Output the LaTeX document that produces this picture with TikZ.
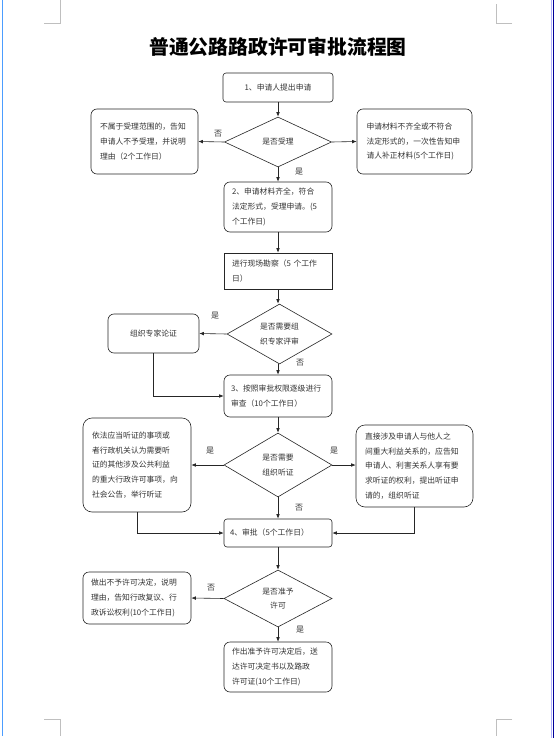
\documentclass[tikz,border=0pt]{standalone}
\usepackage{fontspec}
\setmainfont{Noto Sans CJK SC}
\usetikzlibrary{shapes.geometric,arrows.meta}
\tikzset{
  box/.style={draw=black!85,line width=0.6pt,rounded corners=6pt,inner sep=0pt,
    font=\fontsize{7.8}{14.8}\selectfont,text=black!80,align=left},
  sqbox/.style={box,rounded corners=0pt},
  dia/.style={draw=black!85,line width=0.6pt,diamond,inner sep=0pt,aspect=1.6,
    font=\fontsize{7.8}{14.8}\selectfont,text=black!80,align=center},
  lab/.style={font=\fontsize{8}{9}\selectfont,text=black!80},
  arr/.style={draw=black!85,line width=0.6pt,-{Latex[length=4.5pt,width=3.6pt]}},
  cropmark/.style={draw=black!25,line width=0.8pt},
}
\begin{document}
\begin{tikzpicture}[x=1pt,y=-1pt]
\useasboundingbox (0,0) rectangle (558,738);
\fill[white] (0,0) rectangle (558,738);
% window edges
\draw[line width=1.4pt,blue!55!cyan!70!white] (2.5,0) -- (2.5,736);
\draw[line width=1.6pt,blue!60!black] (553.5,0) -- (553.5,738);
\draw[line width=0.8pt,blue!30] (551.8,0) -- (551.8,738);
% crop marks
\draw[cropmark] (44,23) -- (60,23) -- (60,0);
\draw[cropmark] (512,23) -- (496,23) -- (496,4);
\draw[cropmark] (44,719) -- (60,719) -- (60,736);
\draw[cropmark] (512,719) -- (496,719) -- (496,736);
% title
\node (title) at (278,47) {\fontsize{19.8}{21}\selectfont\bfseries 普通公路路政许可审批流程图};
% nodes
\node[box,rounded corners=3pt,minimum width=110pt,minimum height=29pt,align=center] (b1) at (278,87.5) {1、申请人提出申请};
\node[dia,minimum width=107pt,minimum height=50pt] (d1) at (278,142) {是否受理};
\node[box,minimum width=107pt,minimum height=65pt,text width=89pt] (l1) at (144.5,141.5) {不属于受理范围的，告知\\申请人不予受理，并说明\\理由（2个工作日）};
\node[box,minimum width=115pt,minimum height=65pt,text width=96pt] (r1) at (414.5,141.5) {申请材料不齐全或不符合\\法定形式的，一次性告知申\\请人补正材料(5个工作日)};
\node[box,minimum width=108pt,minimum height=50pt,text width=92pt] (b2) at (278,207) {2、申请材料齐全，符合\\法定形式，受理申请。(5\\个工作日)};
\node[sqbox,minimum width=108pt,minimum height=36pt,text width=92pt] (b3) at (278,271) {进行现场勘察（5 个工作\\日）};
\node[dia,minimum width=105pt,minimum height=60pt] (d2) at (279.5,334) {是否需要组\\织专家评审};
\node[box,minimum width=91pt,minimum height=39pt,align=center] (ex) at (153.5,333.5) {组织专家论证};
\node[box,minimum width=108pt,minimum height=42pt,text width=94pt] (b4) at (278,396) {3、按照审批权限逐级进行\\审查（10个工作日）};
\node[dia,minimum width=108pt,minimum height=64pt] (d3) at (278,465) {是否需要\\组织听证};
\node[box,rounded corners=9pt,minimum width=108pt,minimum height=94pt,text width=90pt] (lh) at (137,465) {依法应当听证的事项或\\者行政机关认为需要听\\证的其他涉及公共利益\\的重大行政许可事项，向\\社会公告，举行听证};
\node[box,rounded corners=9pt,minimum width=117pt,minimum height=82pt,text width=99pt] (rh) at (414.5,466) {直接涉及申请人与他人之\\间重大利益关系的，应告知\\申请人、利害关系人享有要\\求听证的权利，提出听证申\\请的，组织听证};
\node[box,rounded corners=3pt,minimum width=108pt,minimum height=28pt,text width=96pt] (b5) at (278,533) {4、审批（5个工作日）};
\node[dia,minimum width=108pt,minimum height=57pt] (d4) at (278,598.5) {是否准予\\许可};
\node[box,minimum width=108pt,minimum height=52pt,text width=92pt] (rf) at (137,598) {做出不予许可决定，说明\\理由，告知行政复议、行\\政诉讼权利(10个工作日)};
\node[box,minimum width=108pt,minimum height=50pt,text width=92pt] (fin) at (278,667) {作出准予许可决定后，送\\达许可决定书以及路政\\许可证(10个工作日)};
% connectors
\draw[arr] (b1) -- (d1);
\draw[arr] (d1.west) -- (l1.east);
\draw[arr] (d1.east) -- (r1.west);
\draw[arr] (d1) -- (b2);
\draw[arr] (b2) -- (b3);
\draw[arr] (b3) -- (d2.north -| b3.south);
\draw[arr] (d2.west) -- (ex.east);
\draw[arr] (d2.south -| b4.north) -- (b4);
\draw[arr] (ex.south) |- (b4.west);
\draw[arr] (b4) -- (d3);
\draw[arr] (d3.west) -- (lh.east);
\draw[arr] (d3.east) -- (d3.east -| rh.west);
\draw[arr] (d3) -- (b5);
\draw[arr] (lh.south) |- (b5.west);
\draw[arr] (rh.south) |- (b5.east);
\draw[arr] (b5) -- (d4);
\draw[arr] (d4.west) -- (rf.east);
\draw[arr] (d4) -- (fin);
% labels
\node[lab] (n1) at (218,134) {否};
\node[lab] (y1) at (299,172) {是};
\node[lab] (y2) at (215,316) {是};
\node[lab] (n2) at (300,363) {否};
\node[lab] (y3) at (210,451) {是};
\node[lab] (y4) at (334,451) {是};
\node[lab] (n3) at (299,508) {否};
\node[lab] (n4) at (211,588) {否};
\node[lab] (y5) at (300,630) {是};
\end{tikzpicture}
\end{document}
